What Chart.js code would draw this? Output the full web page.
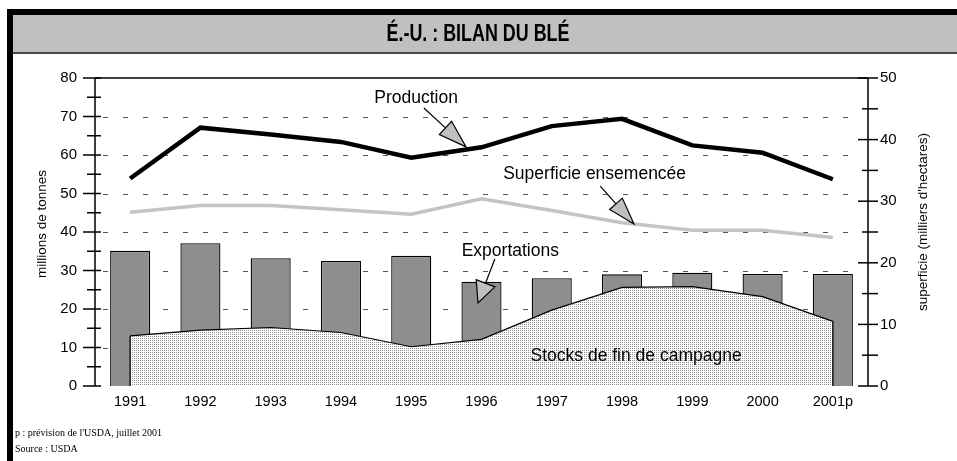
<!DOCTYPE html>
<html>
<head>
<meta charset="utf-8">
<script src="https://cdn.jsdelivr.net/npm/chart.js@4.4.1/dist/chart.umd.min.js"></script>
<style>
  html, body { margin: 0; padding: 0; background: #fff; }
  canvas { display: block; }
</style>
</head>
<body>
<canvas id="chart" width="957" height="461"></canvas>
<script>
// Données
const years = ['1991', '1992', '1993', '1994', '1995', '1996', '1997', '1998', '1999', '2000', '2001p'];
const exportations = [35.1, 37.1, 33.2, 32.5, 33.8, 27.1, 28.0, 29.0, 29.4, 29.1, 29.1];
const stocks = [13.0, 14.5, 15.2, 13.9, 10.2, 12.1, 19.7, 25.6, 25.8, 23.2, 16.8];
const production = [53.9, 67.1, 65.3, 63.4, 59.3, 62.0, 67.5, 69.4, 62.5, 60.6, 53.7];
const superficie = [28.2, 29.3, 29.3, 28.6, 27.9, 30.4, 28.5, 26.5, 25.3, 25.3, 24.1];
const leftTicks = [0, 10, 20, 30, 40, 50, 60, 70, 80];
const rightTicks = [0, 10, 20, 30, 40, 50];

const FONT = '"Liberation Sans", Arial, sans-serif';

// Étiquettes avec flèches (x en index de catégorie, y en millions de tonnes)
const callouts = [
  { text: 'Production', tx: 4.07, ty: 74.8, fromX: 4.18, fromY: 72.2, tipX: 4.78, tipY: 62.1, head: 28, hw: 9 },
  { text: 'Superficie ensemencée', tx: 6.61, ty: 55.1, fromX: 6.69, fromY: 51.9, tipX: 7.17, tipY: 42.1, head: 27, hw: 8.5 },
  { text: 'Exportations', tx: 5.41, ty: 35.1, fromX: 5.19, fromY: 33.0, tipX: 4.95, tipY: 21.6, head: 21, hw: 10 }
];
const stocksLabel = { text: 'Stocks de fin de campagne', tx: 7.2, ty: 7.8 };

// Motif pointillé pour la zone des stocks
function makePattern() {
  const pc = document.createElement('canvas');
  pc.width = 2; pc.height = 2;
  const p = pc.getContext('2d');
  p.fillStyle = '#ffffff';
  p.fillRect(0, 0, 2, 2);
  p.fillStyle = '#909090';
  p.fillRect(0, 0, 1, 1);
  return p.createPattern(pc, 'repeat');
}

const framePlugin = {
  id: 'frame',
  beforeDraw(chart) {
    const ctx = chart.ctx;
    ctx.save();
    ctx.fillStyle = '#fff';
    ctx.fillRect(0, 0, chart.width, chart.height);
    // cadre noir
    ctx.fillStyle = '#000';
    ctx.fillRect(7, 9, chart.width - 7, 6);
    ctx.fillRect(7, 9, 6, chart.height - 9);
    // bandeau du titre
    ctx.fillStyle = '#c0c0c0';
    ctx.fillRect(13, 15, chart.width - 13, 37);
    ctx.fillStyle = '#4a4a4a';
    ctx.fillRect(13, 52, chart.width - 13, 2);
    // titre (police étroite)
    ctx.font = 'bold 23px ' + FONT;
    const t = 'É.-U. : BILAN DU BLÉ';
    const w = ctx.measureText(t).width;
    const sx = 183 / w;
    ctx.translate(478, 34);
    ctx.scale(sx, 1);
    ctx.fillStyle = '#000';
    ctx.textAlign = 'center';
    ctx.textBaseline = 'middle';
    ctx.fillText(t, 0, 1);
    ctx.restore();

    // notes
    ctx.save();
    ctx.fillStyle = '#000';
    ctx.font = '10px "Liberation Serif", "Times New Roman", serif';
    ctx.textBaseline = 'middle';
    ctx.fillText("p : prévision de l'USDA, juillet 2001", 15, 433);
    ctx.fillText('Source : USDA', 15, 449);
    ctx.restore();
  },
  beforeDatasetsDraw(chart) {
    const ctx = chart.ctx;
    const y = chart.scales.y;
    const area = chart.chartArea;
    ctx.save();
    ctx.strokeStyle = '#555';
    ctx.lineWidth = 1;
    ctx.setLineDash([5, 15]);
    leftTicks.forEach(v => {
      if (v === 0 || v === 80) return;
      const py = Math.round(y.getPixelForValue(v)) + 0.5;
      ctx.beginPath();
      ctx.moveTo(area.left + 8, py);
      ctx.lineTo(area.right - 6, py);
      ctx.stroke();
    });
    ctx.restore();
  },
  afterDatasetsDraw(chart) {
    const ctx = chart.ctx;
    const x = chart.scales.x, y = chart.scales.y, y1 = chart.scales.y1;
    const area = chart.chartArea;
    ctx.save();
    ctx.strokeStyle = '#000';
    ctx.lineWidth = 1.3;
    // bords verticaux de la zone des stocks
    [0, stocks.length - 1].forEach(i => {
      const px = x.getPixelForValue(i);
      ctx.beginPath();
      ctx.moveTo(px, y.getPixelForValue(stocks[i]));
      ctx.lineTo(px, y.getPixelForValue(0));
      ctx.stroke();
    });
    // ligne du haut
    ctx.lineWidth = 1.5;
    ctx.beginPath();
    ctx.moveTo(area.left, area.top);
    ctx.lineTo(area.right, area.top);
    ctx.stroke();
    // axes
    ctx.beginPath();
    ctx.moveTo(area.left, area.top);
    ctx.lineTo(area.left, area.bottom);
    ctx.moveTo(area.right, area.top);
    ctx.lineTo(area.right, area.bottom);
    ctx.stroke();
    // graduations gauche
    for (let v = 0; v <= 80; v += 5) {
      const py = y.getPixelForValue(v);
      const major = v % 10 === 0;
      ctx.beginPath();
      ctx.moveTo(area.left - (major ? 12 : 8), py);
      ctx.lineTo(area.left + 6, py);
      ctx.stroke();
    }
    // graduations droite
    for (let v = 0; v <= 50; v += 5) {
      const py = y1.getPixelForValue(v);
      const major = v % 10 === 0;
      ctx.beginPath();
      ctx.moveTo(area.right - (major ? 10 : 6), py);
      ctx.lineTo(area.right + 10, py);
      ctx.stroke();
    }
    ctx.restore();

    // titres des axes
    const midY = (area.top + area.bottom) / 2 - 10;
    ctx.save();
    ctx.fillStyle = '#000';
    ctx.font = '13.5px ' + FONT;
    ctx.textAlign = 'center';
    ctx.textBaseline = 'middle';
    ctx.translate(42, midY + 2);
    ctx.rotate(-Math.PI / 2);
    ctx.fillText('millions de tonnes', 0, 0);
    ctx.restore();
    ctx.save();
    ctx.fillStyle = '#000';
    ctx.font = '13.5px ' + FONT;
    ctx.textAlign = 'center';
    ctx.textBaseline = 'middle';
    ctx.translate(923, midY);
    ctx.rotate(-Math.PI / 2);
    ctx.fillText("superficie (milliers d'hectares)", 0, 0);
    ctx.restore();

    // étiquettes et flèches
    ctx.save();
    ctx.font = '17.5px ' + FONT;
    ctx.fillStyle = '#000';
    ctx.textAlign = 'center';
    ctx.textBaseline = 'middle';
    callouts.forEach(c => {
      ctx.fillText(c.text, x.getPixelForValue(c.tx), y.getPixelForValue(c.ty));
      const sx = x.getPixelForValue(c.fromX), sy = y.getPixelForValue(c.fromY);
      const tx = x.getPixelForValue(c.tipX), ty = y.getPixelForValue(c.tipY);
      const dx = tx - sx, dy = ty - sy, len = Math.hypot(dx, dy);
      const ux = dx / len, uy = dy / len;
      const bx = tx - ux * c.head, by = ty - uy * c.head;
      ctx.strokeStyle = '#000';
      ctx.lineWidth = 1.2;
      ctx.beginPath();
      ctx.moveTo(sx, sy);
      ctx.lineTo(bx, by);
      ctx.stroke();
      ctx.beginPath();
      ctx.moveTo(tx, ty);
      ctx.lineTo(bx - uy * c.hw, by + ux * c.hw);
      ctx.lineTo(bx + uy * c.hw, by - ux * c.hw);
      ctx.closePath();
      ctx.fillStyle = '#c0c0c0';
      ctx.fill();
      ctx.stroke();
      ctx.fillStyle = '#000';
    });
    ctx.fillText(stocksLabel.text, x.getPixelForValue(stocksLabel.tx), y.getPixelForValue(stocksLabel.ty));
    ctx.restore();
  }
};

const ctx = document.getElementById('chart').getContext('2d');
new Chart(ctx, {
  data: {
    labels: years,
    datasets: [
      {
        type: 'line',
        label: 'Production',
        data: production,
        yAxisID: 'y',
        borderColor: '#000',
        borderWidth: 4.5,
        pointRadius: 0,
        tension: 0,
        fill: false,
        order: 1
      },
      {
        type: 'line',
        label: 'Superficie ensemencée',
        data: superficie,
        yAxisID: 'y1',
        borderColor: '#c4c4c4',
        borderWidth: 3.5,
        pointRadius: 0,
        tension: 0,
        fill: false,
        order: 2
      },
      {
        type: 'line',
        label: 'Stocks de fin de campagne',
        data: stocks,
        yAxisID: 'y',
        borderColor: '#000',
        borderWidth: 1.2,
        backgroundColor: makePattern(),
        pointRadius: 0,
        tension: 0,
        fill: 'origin',
        order: 3
      },
      {
        type: 'bar',
        label: 'Exportations',
        data: exportations,
        yAxisID: 'y',
        backgroundColor: '#8e8e8e',
        borderColor: '#000',
        borderWidth: 1.3,
        barPercentage: 0.57,
        categoryPercentage: 1,
        order: 4
      }
    ]
  },
  options: {
    responsive: false,
    animation: false,
    devicePixelRatio: 1,
    layout: { padding: { top: 78, bottom: 45, left: 0, right: 0 } },
    plugins: {
      legend: { display: false },
      tooltip: { enabled: false },
      title: { display: false }
    },
    scales: {
      x: {
        offset: true,
        grid: { display: false, drawTicks: false },
        border: { display: false },
        ticks: { color: '#000', font: { family: FONT, size: 14.5 }, padding: 7, maxRotation: 0 },
        afterFit(scale) { scale.height = 30; }
      },
      y: {
        position: 'left',
        min: 0,
        max: 80,
        grid: { display: false, drawTicks: false },
        border: { display: false },
        ticks: { stepSize: 10, color: '#000', font: { family: FONT, size: 15 }, padding: 18 },
        afterFit(scale) { scale.width = 95; }
      },
      y1: {
        position: 'right',
        min: 0,
        max: 50,
        grid: { display: false, drawTicks: false },
        border: { display: false },
        ticks: { stepSize: 10, color: '#000', font: { family: FONT, size: 15 }, padding: 12 },
        afterFit(scale) { scale.width = 89; }
      }
    }
  },
  plugins: [framePlugin]
});
</script>
</body>
</html>
